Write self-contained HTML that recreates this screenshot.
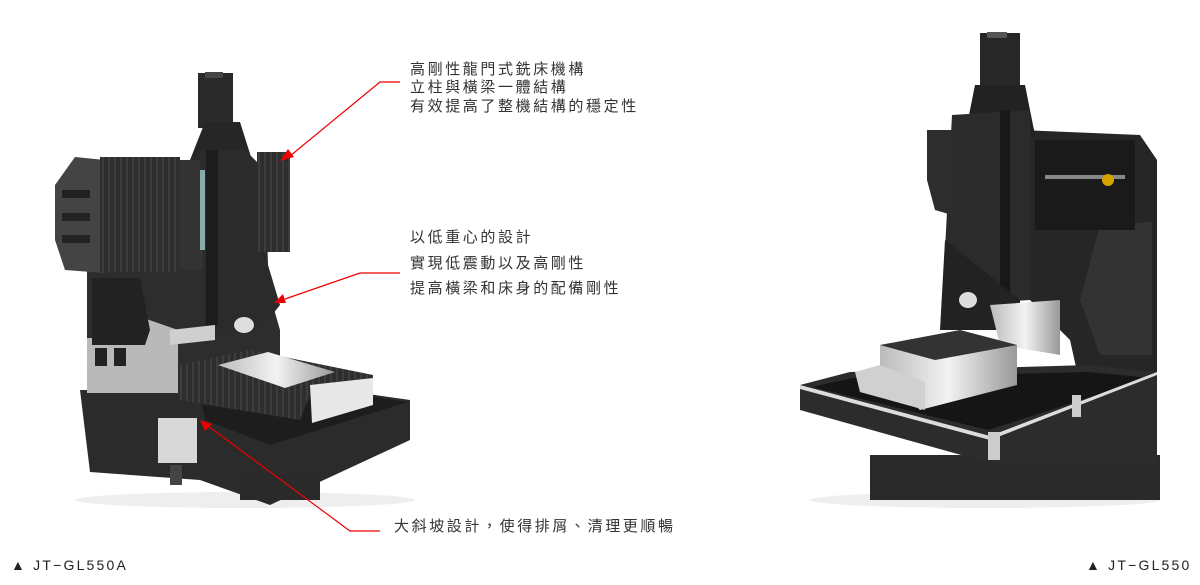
<!DOCTYPE html>
<html><head><meta charset="utf-8"><style>
body{margin:0;background:#fff;width:1200px;height:585px;overflow:hidden;position:relative;font-family:"Liberation Sans","Noto Sans CJK TC",sans-serif;}
.t{position:absolute;color:#333;font-size:15px;line-height:18px;letter-spacing:2.6px;white-space:nowrap}
.l{position:absolute;color:#222;font-size:14px;line-height:15px;letter-spacing:2.2px;white-space:nowrap;top:558px}
svg{position:absolute;left:0;top:0}
</style></head><body>
<svg width="1200" height="585" viewBox="0 0 1200 585">
<defs>
<linearGradient id="sil" x1="0" x2="1"><stop offset="0" stop-color="#bbb"/><stop offset="0.5" stop-color="#f2f2f2"/><stop offset="1" stop-color="#999"/></linearGradient>
<pattern id="bel" width="6" height="10" patternUnits="userSpaceOnUse"><rect width="6" height="10" fill="#2e2e2e"/><rect width="2" height="10" fill="#3d3d3d"/></pattern>
</defs>
<g>
<ellipse cx="245" cy="500" rx="170" ry="8" fill="#eee"/>
<polygon points="80,390 340,390 410,400 410,440 270,505 200,480 90,472" fill="#2b2b2b"/>
<polygon points="200,395 340,392 408,402 270,445 205,420" fill="#1d1d1d"/>
<rect x="158" y="418" width="39" height="45" fill="#d8d8d8"/>
<rect x="170" y="465" width="12" height="20" fill="#444"/>
<rect x="240" y="475" width="80" height="25" fill="#2a2a2a"/>
<polygon points="87,270 260,260 280,330 280,395 190,395 87,393" fill="#2d2d2d"/>
<polygon points="87,338 135,338 135,315 178,330 178,393 87,393" fill="#b9b9b9"/>
<polygon points="92,278 140,278 150,330 145,345 92,345" fill="#222"/>
<rect x="95" y="348" width="12" height="18" fill="#222"/><rect x="114" y="348" width="12" height="18" fill="#222"/>
<polygon points="55,185 75,157 105,160 105,273 65,270 55,240" fill="#444"/>
<rect x="62" y="190" width="28" height="8" fill="#222"/><rect x="62" y="213" width="28" height="8" fill="#222"/><rect x="62" y="235" width="28" height="8" fill="#222"/>
<rect x="100" y="157" width="80" height="115" fill="url(#bel)"/>
<rect x="180" y="160" width="30" height="110" fill="#333"/>
<rect x="198" y="73" width="35" height="55" fill="#2a2a2a"/>
<rect x="205" y="72" width="18" height="6" fill="#444"/>
<polygon points="190,160 205,122 240,122 252,160" fill="#262626"/>
<polygon points="200,150 245,150 265,170 268,265 280,305 260,330 205,330" fill="#2b2b2b"/>
<rect x="206" y="150" width="12" height="175" fill="#1c1c1c"/>
<rect x="200" y="170" width="5" height="80" fill="#8aa"/>
<rect x="257" y="152" width="33" height="100" fill="url(#bel)"/>
<ellipse cx="244" cy="325" rx="10" ry="8" fill="#ddd"/>
<polygon points="170,330 215,325 215,340 170,345" fill="#cfcfcf"/>
<polygon points="178,365 250,350 373,375 373,385 310,395 300,420 178,400" fill="url(#bel)"/>
<polygon points="218,365 268,352 335,372 285,388" fill="url(#sil)"/>
<polygon points="310,385 373,378 373,405 312,423" fill="#e8e8e8"/>
</g>
<g>
<ellipse cx="985" cy="500" rx="175" ry="8" fill="#eee"/>
<rect x="870" y="455" width="290" height="45" fill="#2a2a2a"/>
<polygon points="1020,130 1140,135 1157,160 1157,380 1080,385 1070,340 1030,300" fill="#262626"/>
<polygon points="1100,225 1152,222 1152,355 1100,355 1080,300" fill="#333"/>
<rect x="1035" y="140" width="100" height="90" fill="#1a1a1a"/>
<rect x="1045" y="175" width="80" height="4" fill="#888"/>
<circle cx="1108" cy="180" r="6" fill="#d4a300"/>
<rect x="980" y="33" width="40" height="55" fill="#272727"/>
<rect x="987" y="32" width="20" height="6" fill="#555"/>
<polygon points="965,135 975,85 1025,85 1035,135" fill="#222"/>
<polygon points="952,115 1030,110 1030,300 952,305 945,250" fill="#2b2b2b"/>
<rect x="1000" y="110" width="10" height="195" fill="#181818"/>
<polygon points="927,130 952,130 952,215 935,210 927,180" fill="#2d2d2d"/>
<polygon points="945,240 1020,300 1020,330 940,330" fill="#222"/>
<ellipse cx="968" cy="300" rx="9" ry="8" fill="#ddd"/>
<polygon points="990,305 1060,300 1060,355 1000,345" fill="url(#sil)"/>
<polygon points="800,385 850,372 1090,365 1157,372 1157,462 990,463 800,410" fill="#2c2c2c"/>
<polygon points="812,387 852,378 1088,372 1150,378 988,430" fill="#151515"/>
<polygon points="800,385 990,436 1157,372 1157,375 990,440 800,389" fill="#ddd"/>
<rect x="988" y="432" width="12" height="28" fill="#ccc"/>
<rect x="1072" y="395" width="9" height="22" fill="#ccc"/>
<polygon points="880,345 960,330 1017,345 1017,385 920,410 880,370" fill="url(#sil)"/>
<polygon points="880,345 960,330 1017,345 935,360" fill="#333"/>
<polygon points="855,372 880,365 925,382 925,410 860,392" fill="#d0d0d0"/>
</g>
<g stroke="#e00" stroke-width="1.2" fill="none">
<polyline points="400,82 380,82 290,156"/>
<polyline points="400,273 360,273 285,299"/>
<polyline points="380,531 350,531 208,426"/>
</g>
<g fill="#e00">
<polygon points="280,161 288,149 294,157"/>
<polygon points="274,303 283,294 286,303"/>
<polygon points="200,420 212,424 205,431"/>
</g>
</svg>
<div class="t" style="left:410px;top:61px">高剛性龍門式銑床機構</div>
<div class="t" style="left:410px;top:79px">立柱與橫梁一體結構</div>
<div class="t" style="left:410px;top:98px">有效提高了整機結構的穩定性</div>
<div class="t" style="left:410px;top:229px">以低重心的設計</div>
<div class="t" style="left:410px;top:255px">實現低震動以及高剛性</div>
<div class="t" style="left:410px;top:280px">提高橫梁和床身的配備剛性</div>
<div class="t" style="left:394px;top:518px">大斜坡設計，使得排屑、清理更順暢</div>
<div class="l" style="left:11px">▲ JT−GL550A</div>
<div class="l" style="left:1086px">▲ JT−GL550</div>
</body></html>
